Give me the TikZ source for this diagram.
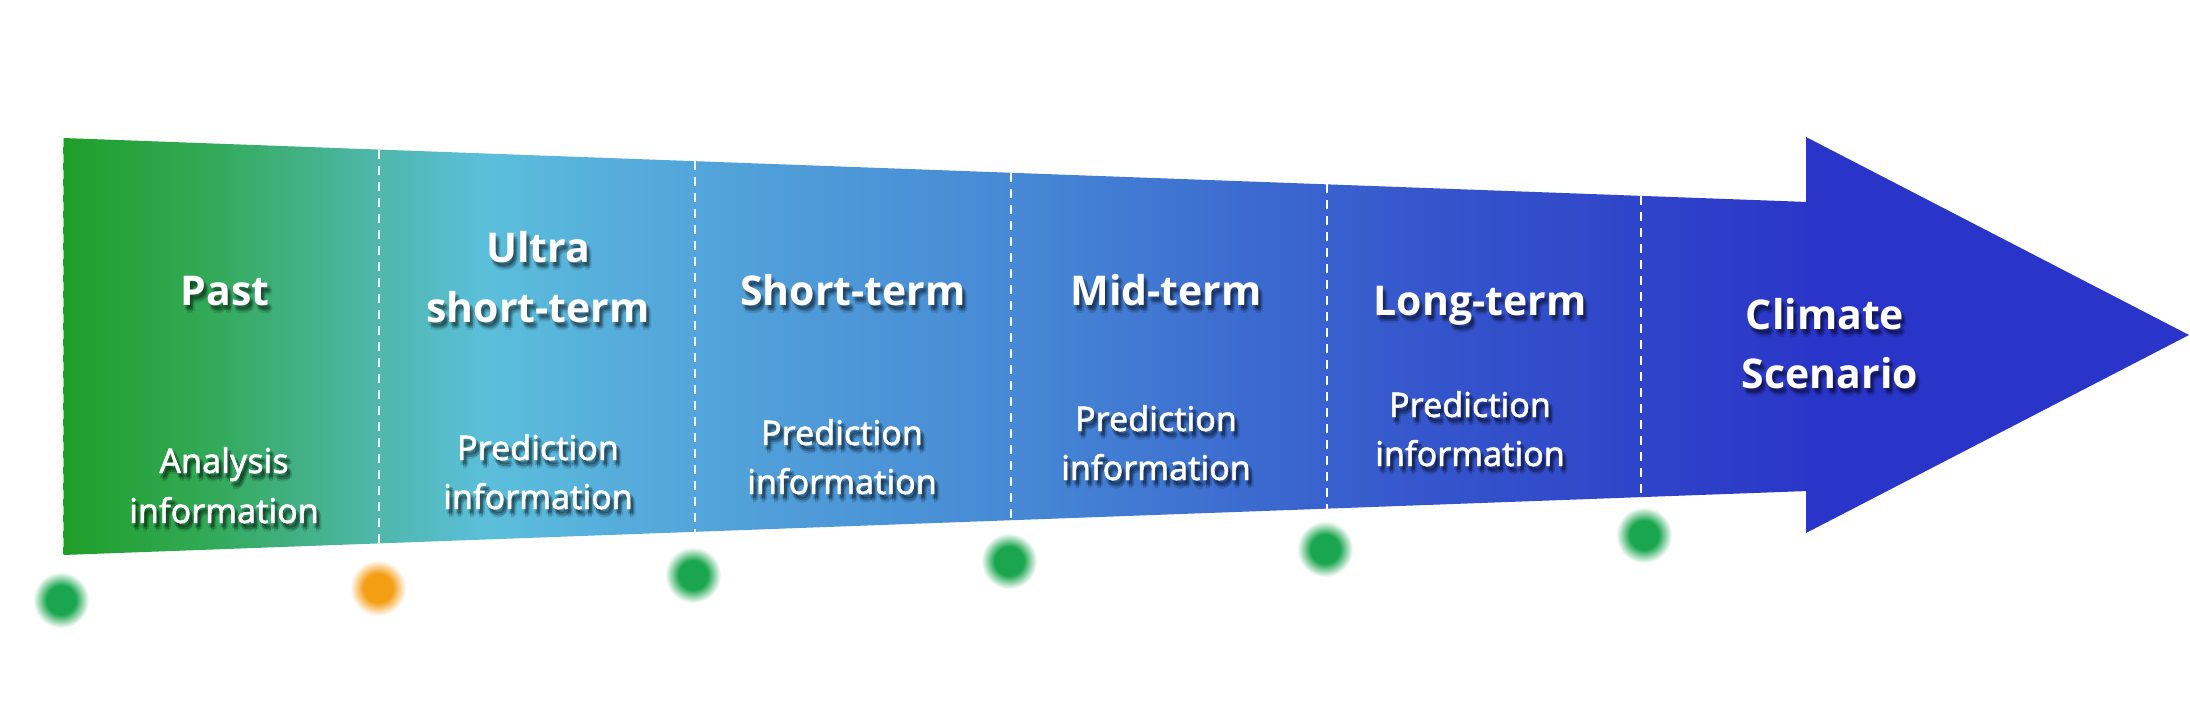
\documentclass[tikz,border=0pt]{standalone}
\usepackage{fontspec}
\setmainfont{Noto Sans}
\newfontfamily\subf[FakeBold=1.4]{Noto Sans}
\newfontfamily\ttlf{Open Sans}
\usetikzlibrary{calc}
\definecolor{g0}{HTML}{1F9E28}
\definecolor{g1}{HTML}{33AA5A}
\definecolor{g2}{HTML}{4DB6A6}
\definecolor{g3}{HTML}{5BBFDB}
\definecolor{g4}{HTML}{56ADDB}
\definecolor{g5}{HTML}{4E9AD8}
\definecolor{g6}{HTML}{4689D5}
\definecolor{g7}{HTML}{3D6FD0}
\definecolor{g8}{HTML}{3556CC}
\definecolor{g9}{HTML}{2F44C9}
\definecolor{g10}{HTML}{2A36C8}
\definecolor{headc}{HTML}{2934C8}
\definecolor{dotg}{HTML}{1AA64E}
\definecolor{doto}{HTML}{F49E14}
\pgfdeclarehorizontalshading{arrowgrad}{100bp}{color(0bp)=(g0); color(25bp)=(g0); color(29.36bp)=(g1); color(33.66bp)=(g2); color(37.11bp)=(g3); color(40.84bp)=(g4); color(46.57bp)=(g5); color(52.31bp)=(g6); color(58.05bp)=(g7); color(63.93bp)=(g8); color(70.27bp)=(g9); color(75bp)=(g10); color(100bp)=(g10)}
\pgfdeclareradialshading{dotgreen}{\pgfpoint{0bp}{0bp}}{color(0bp)=(dotg); color(13bp)=(dotg); color(25bp)=(white); color(50bp)=(white)}
\pgfdeclareradialshading{dotorange}{\pgfpoint{0bp}{0bp}}{color(0bp)=(doto); color(13bp)=(doto); color(25bp)=(white); color(50bp)=(white)}
\newcommand\ttlfont{\ttlf\bfseries\fontsize{41}{50}\selectfont}
\newcommand\subfont{\subf\fontsize{34}{40}\selectfont}
\newcommand\lbl[5]{%
  \foreach \dx/\dy in {2/4,4/4,3/6,3/3,1/5,5/6,3/8}{%
    \node[shadowtxt,font=#4] (#1s\dx-\dy) at (#2+\dx,#3+\dy) {#5};}
  \node[txt,font=#4] (#1) at (#2,#3) {#5};}
\tikzset{
  txt/.style={text=white,anchor=base,inner sep=0pt},
  shadowtxt/.style={text=black,text opacity=0.1,anchor=base,inner sep=0pt},
  sep/.style={draw=white,dash pattern=on 9pt off 7pt,line width=2pt},
  dot/.style={circle,inner sep=0pt,minimum size=56pt}
}
\begin{document}
\begin{tikzpicture}[x=1pt,y=-1pt]
\useasboundingbox (0,0) rectangle (2190,706);
\fill[white] (0,0) rectangle (2190,706);
\coordinate (TL) at (63,138);
\coordinate (TR) at (1808,202);
\coordinate (BR) at (1808,491);
\coordinate (BL) at (63,555);
\coordinate (HT) at (1806,137);
\coordinate (TIP) at (2189,335);
\coordinate (HB) at (1806,533);
\shade[shading=arrowgrad] (TL) -- (TR) -- (BR) -- (BL) -- cycle;
\fill[headc] (HT) -- (TIP) -- (HB) -- cycle;
\draw[sep,line width=1.4pt,draw opacity=0.6] (TL) -- (BL);
\foreach \t in {0.1811,0.3622,0.5433,0.7244,0.9043}
  \draw[sep] ($(TL)!\t!(TR)$) -- ($(BL)!\t!(BR)$);
% dots
\node[dot,shading=dotgreen] (d1) at (61,600) {};
\node[dot,shading=dotorange] (d2) at (378,588) {};
\node[dot,shading=dotgreen] (d3) at (693,575) {};
\node[dot,shading=dotgreen] (d4) at (1009,561) {};
\node[dot,shading=dotgreen] (d5) at (1325,549) {};
\node[dot,shading=dotgreen] (d6) at (1644,535) {};
% titles
\lbl{past}{225}{305}{\ttlfont}{Past}
\lbl{ultra}{538}{262}{\ttlfont}{Ultra}
\lbl{ultrab}{538}{322}{\ttlfont}{short-term}
\lbl{short}{853}{305}{\ttlfont}{Short-term}
\lbl{mid}{1166}{305}{\ttlfont}{Mid-term}
\lbl{long}{1480}{315}{\ttlfont}{Long-term}
\lbl{clim}{1825}{329}{\ttlfont}{Climate}
\lbl{climb}{1830}{388}{\ttlfont}{Scenario}
% subtitles
\lbl{an}{224}{473}{\subfont}{Analysis}
\lbl{anb}{224}{523}{\subfont}{information}
\lbl{pu}{538}{460}{\subfont}{Prediction}
\lbl{pub}{538}{509}{\subfont}{information}
\lbl{ps}{842}{445}{\subfont}{Prediction}
\lbl{psb}{842}{494}{\subfont}{information}
\lbl{pm}{1156}{431}{\subfont}{Prediction}
\lbl{pmb}{1156}{480}{\subfont}{information}
\lbl{pl}{1470}{417}{\subfont}{Prediction}
\lbl{plb}{1470}{466}{\subfont}{information}
\end{tikzpicture}
\end{document}
